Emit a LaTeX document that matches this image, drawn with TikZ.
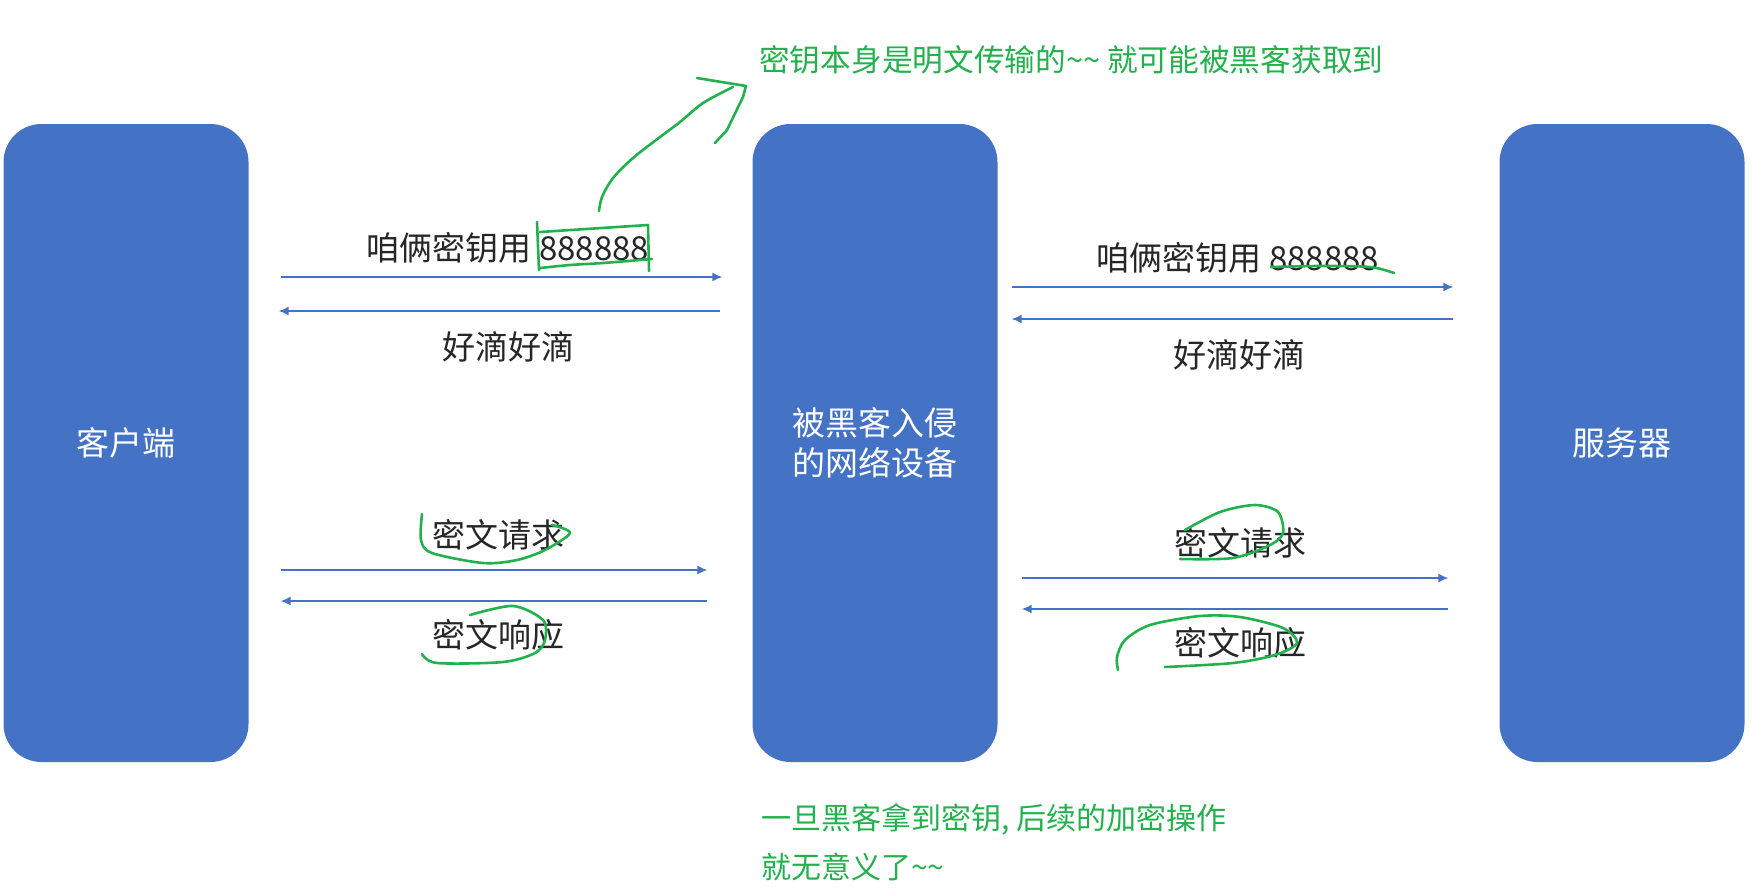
\documentclass[tikz,border=0pt]{standalone}
\usepackage{fontspec}
\setmainfont{Noto Sans CJK SC}
\usetikzlibrary{arrows.meta}
\definecolor{boxblue}{HTML}{4472C4}
\definecolor{pengreen}{HTML}{22B14C}
\tikzset{
host/.style={fill=boxblue,rounded corners=38pt,minimum width=245pt,minimum height=638pt,text=white,align=center,font=\fontsize{33}{40}\selectfont},
msg/.style={-{Latex[length=10pt,width=9pt]},draw=boxblue,line width=1.5pt},
lbl/.style={inner sep=0pt,text=black!85,font=\fontsize{33}{38}\selectfont},
note/.style={inner sep=0pt,text=pengreen,align=left,font=\fontsize{30}{49}\selectfont},
pen/.style={draw=pengreen,line width=2.6pt,line cap=round,line join=round}
}

\begin{document}
\begin{tikzpicture}[x=1pt,y=-1pt]
\useasboundingbox (0,0) rectangle (1763,895);

% hosts
\node[host] (client) at (126,443) {客户端};
\node[host] (hacker) at (875,443) {被黑客入侵\\的网络设备};
\node[host] (server) at (1622,443) {服务器};

% left side, client <-> hacked device
\draw[msg,shorten <=32pt,shorten >=30pt] ([yshift=166pt]client.east) -- ([yshift=166pt]hacker.west);
\draw[msg,shorten <=32pt,shorten >=30pt] ([yshift=132pt]hacker.west) -- ([yshift=132pt]client.east);
\draw[msg,shorten <=32pt,shorten >=45pt] ([yshift=-127pt]client.east) -- ([yshift=-127pt]hacker.west);
\draw[msg,shorten <=45pt,shorten >=32pt] ([yshift=-158pt]hacker.west) -- ([yshift=-158pt]client.east);
\node[lbl] (keyL) at (508,248) {咱俩密钥用 888888};
\node[lbl] (okL) at (508,347) {好滴好滴};
\node[lbl] (reqL) at (498,535) {密文请求};
\node[lbl] (resL) at (498,635) {密文响应};

% right side, hacked device <-> server
\draw[msg,shorten <=14pt,shorten >=46pt] ([yshift=156pt]hacker.east) -- ([yshift=156pt]server.west);
\draw[msg,shorten <=46pt,shorten >=14pt] ([yshift=124pt]server.west) -- ([yshift=124pt]hacker.east);
\draw[msg,shorten <=24pt,shorten >=51pt] ([yshift=-135pt]hacker.east) -- ([yshift=-135pt]server.west);
\draw[msg,shorten <=51pt,shorten >=24pt] ([yshift=-166pt]server.west) -- ([yshift=-166pt]hacker.east);
\node[lbl] (keyR) at (1238,258) {咱俩密钥用 888888};
\node[lbl] (okR) at (1239,355) {好滴好滴};
\node[lbl] (reqR) at (1240,543) {密文请求};
\node[lbl] (resR) at (1240,643) {密文响应};

% green remarks
\node[note,anchor=west,font=\fontsize{30.7}{49}\selectfont] (topnote) at (759,60) {密钥本身是明文传输的\textasciitilde\textasciitilde\ 就可能被黑客获取到};
\node[note,anchor=west] (botnote) at (761,842) {一旦黑客拿到密钥, 后续的加密操作\\就无意义了\textasciitilde\textasciitilde};

% pen marks
\draw[pen] plot[smooth] coordinates {(599,211) (602,197) (613,178) (633,158) (660,137) (680,122) (703,103) (733,87)};
\draw[pen] (697,78) -- (746,86) -- (743,97) -- (727,130) -- (715,143);
\draw[pen] (537,222) -- (539,270);
\draw[pen] (540,232) -- (648,225) -- (649,271);
\draw[pen] plot[smooth] coordinates {(540,268) (570,265) (603,263) (652,259)};
\draw[pen] plot[smooth] coordinates {(1271,267) (1320,266) (1370,267) (1394,273)};
\draw[pen] plot[smooth] coordinates {(422,514) (421,540) (432,553) (483,563) (517,560) (545,550) (570,533) (552,525)};
\draw[pen] plot[smooth] coordinates {(422,654) (437,663) (503,662) (535,653) (545,640) (543,620) (513,606) (470,615)};
\draw[pen] plot[smooth] coordinates {(1180,559) (1233,558) (1270,545) (1283,533) (1278,512) (1255,505) (1220,512) (1185,530)};
\draw[pen] plot[smooth] coordinates {(1165,667) (1233,663) (1275,655) (1297,643) (1283,628) (1240,617) (1200,616) (1150,625) (1125,640) (1117,657) (1118,670)};
\end{tikzpicture}
\end{document}
